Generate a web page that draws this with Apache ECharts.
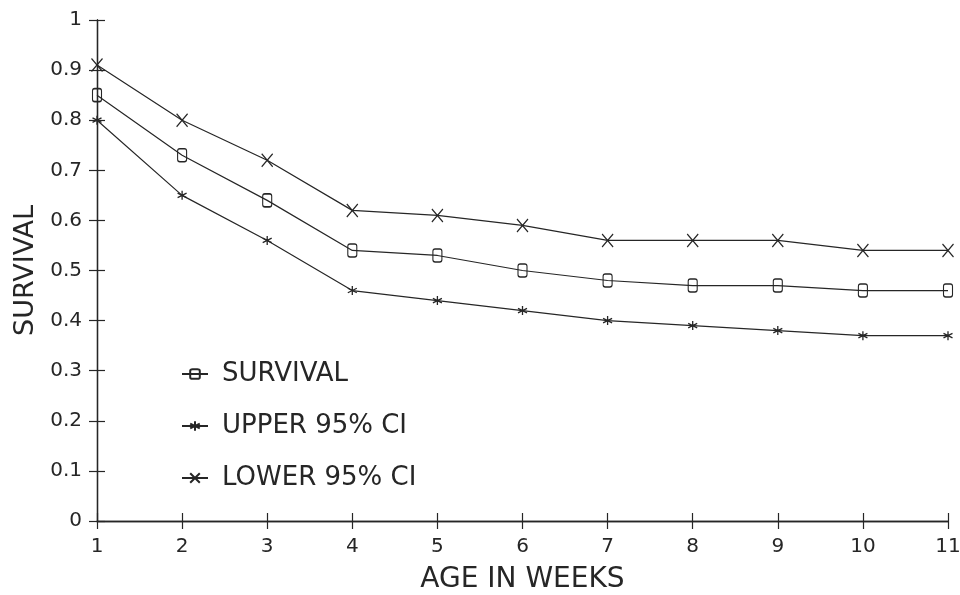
<!DOCTYPE html>
<html><head><meta charset="utf-8">
<script src="https://cdn.jsdelivr.net/npm/echarts@6/dist/echarts.min.js"></script>
<style>html,body{margin:0;padding:0;background:#fff}#c{width:960px;height:595px}</style>
</head><body><div id="c"></div>
<script>
var weeks = [1,2,3,4,5,6,7,8,9,10,11];
var survival = [0.85,0.73,0.64,0.54,0.53,0.50,0.48,0.47,0.47,0.46,0.46];
var upperCI = [0.80,0.65,0.56,0.46,0.44,0.42,0.40,0.39,0.38,0.37,0.37];
var lowerCI = [0.91,0.80,0.72,0.62,0.61,0.59,0.56,0.56,0.56,0.54,0.54];
var seriesNames = ['SURVIVAL','UPPER 95% CI','LOWER 95% CI'];

function pts(arr){ return weeks.map(function(w,i){ return [w, arr[i]]; }); }
var ink = '#262626';
var font = 'DejaVu Sans';
var symO = 'path://M2,0L6,0A2,2 0 0 1 8,2L8,10A2,2 0 0 1 6,12L2,12A2,2 0 0 1 0,10L0,2A2,2 0 0 1 2,0Z';
var symStar = 'path://M5,0L5,10M0,2.5L10,7.5M0,7.5L10,2.5';
var symX = 'path://M0,0L10,12M10,0L0,12';

function mk(name, data, sym, size, axisIdx){
  return {
    name: name, type: 'line', data: pts(data), symbol: sym, symbolSize: size,
    showAllSymbol: true, xAxisIndex: axisIdx, yAxisIndex: axisIdx,
    lineStyle: {color: ink, width: 1.2},
    itemStyle: {color: 'rgba(0,0,0,0)', borderColor: ink, borderWidth: 1.3},
    emphasis: {disabled: true}, animation: false
  };
}

var chart = echarts.init(document.getElementById('c'));
var gridBox = {left: 97, right: 12, top: 20, bottom: 74, outerBoundsMode: 'none', containLabel: false};
chart.setOption({
  animation: false,
  backgroundColor: '#fff',
  grid: [Object.assign({}, gridBox), Object.assign({}, gridBox)],
  legend: {
    orient: 'vertical', left: 176, top: 356, itemWidth: 26, itemHeight: 12, itemGap: 26,
    data: seriesNames,
    textStyle: {fontFamily: font, fontSize: 26, color: ink, padding:[0,0,0,9]}
  },
  xAxis: [
    {
      type:'value', min:1, max:11, interval:1, gridIndex:0, splitLine:{show:false},
      name: 'AGE IN WEEKS', nameLocation: 'middle', nameGap: 45,
      nameTextStyle: {fontFamily: font, fontSize: 28, color: ink},
      axisLine: {show: true, lineStyle: {color: ink, width: 1.3}},
      axisTick: {show: true, length: 8, lineStyle: {color: ink, width: 1.2}},
      axisLabel: {fontFamily: font, fontSize: 20, color: ink, margin: 16}
    },
    {
      type:'value', min:1, max:11, interval:1, gridIndex:1, position:'bottom', splitLine:{show:false},
      axisLine: {show: true, lineStyle: {color: ink, width: 1.3}},
      axisTick: {show: true, inside: true, length: 8, lineStyle: {color: ink, width: 1.2}},
      axisLabel: {show: false}
    }
  ],
  yAxis: [
    {
      type:'value', min:0, max:1, interval:0.1, gridIndex:0, splitLine:{show:false},
      name: 'SURVIVAL', nameLocation: 'middle', nameGap: 57, nameRotate: 90,
      nameTextStyle: {fontFamily: font, fontSize: 27, color: ink},
      axisLine: {show: true, lineStyle: {color: ink, width: 1.3}},
      axisTick: {show: true, length: 8, lineStyle: {color: ink, width: 1.2}},
      axisLabel: {fontFamily: font, fontSize: 20, color: ink, margin: 15}
    },
    {
      type:'value', min:0, max:1, interval:0.1, gridIndex:1, position:'left', splitLine:{show:false},
      axisLine: {show: true, lineStyle: {color: ink, width: 1.3}},
      axisTick: {show: true, inside: true, length: 8, lineStyle: {color: ink, width: 1.2}},
      axisLabel: {show: false}
    }
  ],
  series: [
    mk(seriesNames[0], survival, symO, [9,13], 0),
    mk(seriesNames[1], upperCI, symStar, [9,9], 1),
    mk(seriesNames[2], lowerCI, symX, [11,13], 0)
  ]
});
</script></body></html>
